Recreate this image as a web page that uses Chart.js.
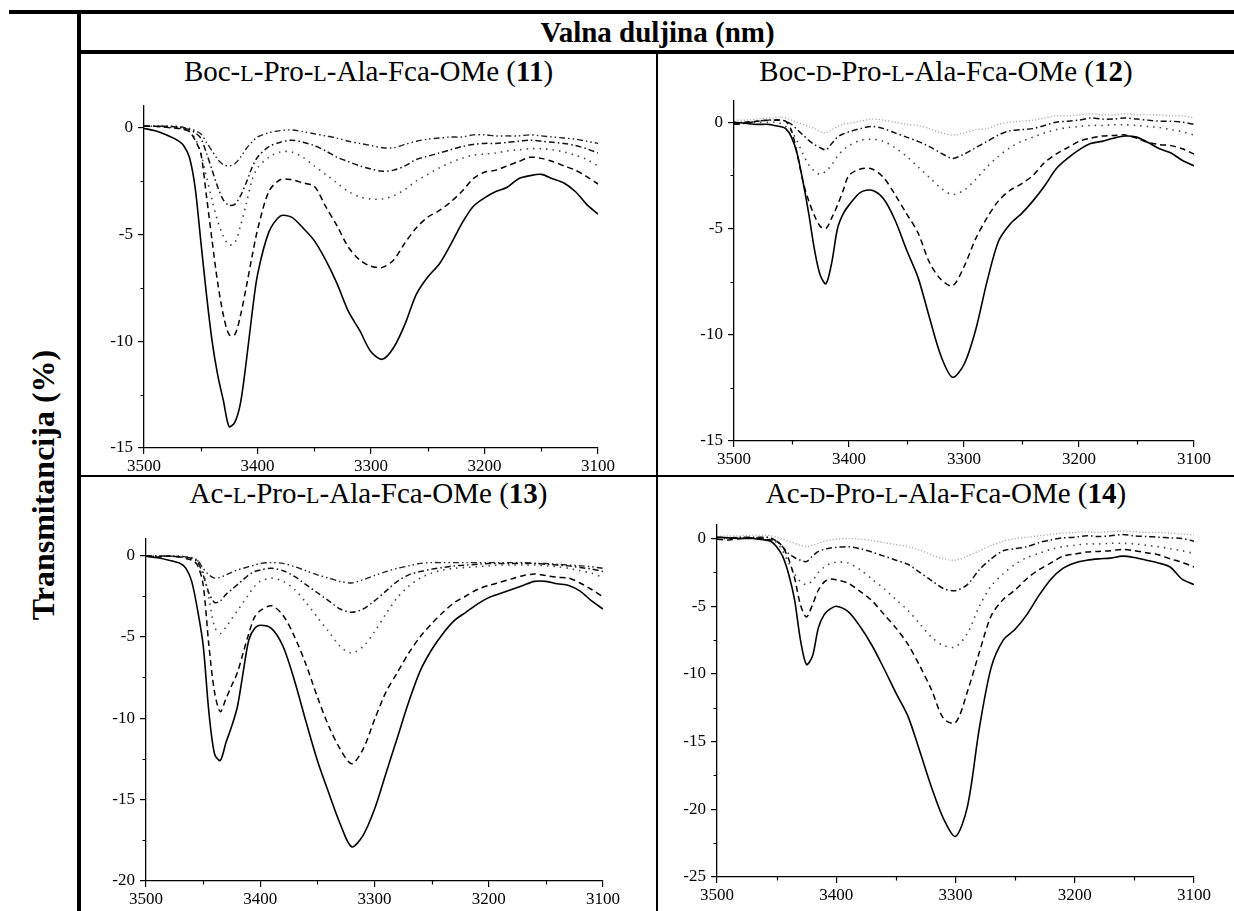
<!DOCTYPE html>
<html>
<head>
<meta charset="utf-8">
<script src="https://cdn.jsdelivr.net/npm/chart.js@4.4.0/dist/chart.umd.min.js"></script>
<style>
  html, body { margin: 0; padding: 0; background: #fff; }
  #page { position: relative; width: 1234px; height: 911px; overflow: hidden; font-family: "Liberation Serif", "Times New Roman", serif; color: #000; }
  .rule { position: absolute; background: #000; }
  .head { position: absolute; font-weight: bold; font-size: 29px; line-height: 29px; text-align: center; white-space: nowrap; }
  .ttl { position: absolute; font-size: 29px; line-height: 29px; text-align: center; white-space: nowrap; }
  .sc { font-size: 0.76em; }
  .box { position: absolute; }
  #ylab { position: absolute; left: -157px; top: 465px; width: 400px; height: 40px; line-height: 40px; font-size: 32px; font-weight: bold; text-align: center; white-space: nowrap; transform: rotate(-90deg); }
</style>
</head>
<body>
<div id="page">
  <!-- tablica -->
  <div class="rule" style="left:9px;top:10px;width:1225px;height:4px"></div>
  <div class="rule" style="left:77px;top:10px;width:4px;height:901px"></div>
  <div class="rule" style="left:79px;top:50px;width:1155px;height:4px"></div>
  <div class="rule" style="left:656px;top:52px;width:2px;height:859px"></div>
  <div class="rule" style="left:79px;top:475px;width:1155px;height:2px"></div>

  <div class="head" style="left:81px;width:1153px;top:18px">Valna duljina (nm)</div>
  <div id="ylab">Transmitancija (%)</div>

  <div class="ttl" style="left:81px;width:575px;top:57px">Boc-<span class="sc">L</span>-Pro-<span class="sc">L</span>-Ala-Fca-OMe (<b>11</b>)</div>
  <div class="ttl" style="left:658px;width:576px;top:57px">Boc-<span class="sc">D</span>-Pro-<span class="sc">L</span>-Ala-Fca-OMe (<b>12</b>)</div>
  <div class="ttl" style="left:81px;width:575px;top:479px">Ac-<span class="sc">L</span>-Pro-<span class="sc">L</span>-Ala-Fca-OMe (<b>13</b>)</div>
  <div class="ttl" style="left:658px;width:576px;top:479px">Ac-<span class="sc">D</span>-Pro-<span class="sc">L</span>-Ala-Fca-OMe (<b>14</b>)</div>

  <div class="box" id="b11"><canvas id="c11"></canvas></div>
  <div class="box" id="b12"><canvas id="c12"></canvas></div>
  <div class="box" id="b13"><canvas id="c13"></canvas></div>
  <div class="box" id="b14"><canvas id="c14"></canvas></div>
</div>

<script>
// valni brojevi (cm-1), zajednički za sve spektre
const wavenumbers = [3500,3490,3480,3470,3465,3460,3455,3450,3445,3440,3435,3430,3425,3420,3415,3410,3405,3400,
  3390,3380,3370,3360,3350,3340,3330,3320,3310,3300,3290,3280,3270,3260,3250,3240,3230,3220,3210,3200,
  3190,3180,3170,3160,3150,3140,3130,3120,3110,3100];
const xTicks = [3500, 3400, 3300, 3200, 3100];
const xMinor = [3450, 3350, 3250, 3150];

const yTicks11 = [0, -5, -10, -15];
const yMinor11 = [-2.5, -7.5, -12.5];
const yTicks13 = [0, -5, -10, -15, -20];
const yMinor13 = [-2.5, -7.5, -12.5, -17.5];
const yTicks14 = [0, -5, -10, -15, -20, -25];
const yMinor14 = [-2.5, -7.5, -12.5, -17.5, -22.5];

// 11: Boc-L-Pro-L-Ala-Fca-OMe
const c11_a = [-0.05,-0.16,-0.36,-0.62,-0.86,-1.4,-2.8,-5.3,-7.8,-10.0,-11.6,-12.8,-14.0,-13.8,-12.9,-11.0,-8.8,-6.9,
  -4.9,-4.15,-4.2,-4.7,-5.3,-6.2,-7.3,-8.6,-9.5,-10.5,-10.85,-10.3,-9.2,-7.8,-7.0,-6.4,-5.5,-4.5,-3.7,-3.3,
  -3.0,-2.8,-2.4,-2.26,-2.2,-2.4,-2.6,-3.0,-3.6,-4.06];
const c11_b = [0.05,0.05,0,-0.05,-0.1,-0.2,-0.6,-1.2,-3.2,-5.3,-7.3,-8.8,-9.7,-9.7,-8.8,-7.5,-6.1,-4.8,
  -3.0,-2.45,-2.45,-2.6,-2.75,-3.7,-4.6,-5.6,-6.2,-6.5,-6.55,-6.2,-5.4,-4.7,-4.2,-3.9,-3.5,-3.0,-2.4,-2.1,
  -2.0,-1.8,-1.6,-1.4,-1.45,-1.6,-1.8,-2.0,-2.3,-2.65];
const c11_c = [0.05,0.05,0,0,-0.05,-0.2,-0.5,-1.2,-2.3,-3.4,-4.4,-5.1,-5.5,-5.4,-4.6,-3.6,-2.5,-1.9,
  -1.4,-1.15,-1.15,-1.4,-1.8,-2.2,-2.6,-3.0,-3.25,-3.35,-3.35,-3.2,-2.9,-2.5,-2.2,-1.9,-1.65,-1.45,-1.3,-1.25,
  -1.2,-1.1,-1.05,-1.0,-1.0,-1.05,-1.15,-1.3,-1.5,-1.8];
const c11_d = [0.05,0.05,0.05,0,-0.05,-0.1,-0.25,-0.5,-1.2,-2.0,-2.8,-3.4,-3.65,-3.6,-3.2,-2.6,-1.9,-1.4,
  -0.9,-0.7,-0.6,-0.7,-0.85,-1.1,-1.4,-1.6,-1.8,-1.95,-2.05,-2.0,-1.8,-1.5,-1.35,-1.2,-1.05,-0.9,-0.8,-0.75,
  -0.75,-0.7,-0.65,-0.6,-0.65,-0.7,-0.75,-0.85,-1.0,-1.2];
const c11_e = [0.05,0.05,0.05,0.05,0,-0.05,-0.15,-0.3,-0.7,-1.1,-1.5,-1.75,-1.8,-1.7,-1.4,-1.0,-0.7,-0.45,
  -0.25,-0.15,-0.12,-0.2,-0.3,-0.4,-0.5,-0.65,-0.75,-0.85,-0.95,-0.95,-0.8,-0.65,-0.55,-0.5,-0.45,-0.45,-0.35,-0.35,
  -0.4,-0.4,-0.4,-0.35,-0.4,-0.45,-0.5,-0.55,-0.65,-0.75];

// 12: Boc-D-Pro-L-Ala-Fca-OMe
const c12_a = [0,-0.05,-0.1,-0.1,-0.15,-0.2,-0.3,-0.7,-1.5,-2.8,-4.3,-6.0,-7.2,-7.6,-6.6,-5.0,-4.3,-3.9,
  -3.3,-3.2,-3.6,-4.6,-6.0,-7.3,-9.2,-11.0,-12.0,-11.4,-9.8,-7.5,-5.6,-4.8,-4.3,-3.7,-3.0,-2.2,-1.7,-1.3,
  -1.0,-0.9,-0.75,-0.65,-0.7,-0.95,-1.25,-1.45,-1.8,-2.05];
const c12_b = [-0.1,0,0.05,0.1,0.1,0.1,0.05,-0.4,-1.5,-2.8,-3.7,-4.4,-4.9,-5.0,-4.5,-3.9,-3.2,-2.5,
  -2.2,-2.2,-2.6,-3.4,-4.3,-5.2,-6.6,-7.4,-7.7,-6.8,-5.5,-4.5,-3.7,-3.2,-2.9,-2.5,-1.9,-1.5,-1.2,-0.9,
  -0.75,-0.65,-0.62,-0.6,-0.75,-0.95,-1.05,-1.1,-1.25,-1.5];
const c12_c = [0,0,0,0,0,-0.05,-0.2,-0.4,-0.9,-1.5,-2.0,-2.3,-2.45,-2.3,-2.0,-1.6,-1.3,-1.1,
  -0.85,-0.8,-0.9,-1.2,-1.6,-2.1,-2.6,-3.1,-3.4,-3.2,-2.7,-2.1,-1.6,-1.2,-0.9,-0.7,-0.5,-0.35,-0.25,-0.2,
  -0.15,-0.15,-0.12,-0.12,-0.15,-0.2,-0.25,-0.35,-0.45,-0.6];
const c12_d = [-0.1,-0.05,0.05,0.1,0.1,0.1,0.05,-0.1,-0.35,-0.6,-0.85,-1.05,-1.2,-1.3,-1.0,-0.7,-0.55,-0.45,
  -0.3,-0.2,-0.3,-0.5,-0.7,-0.9,-1.15,-1.45,-1.7,-1.5,-1.2,-0.9,-0.6,-0.4,-0.35,-0.3,-0.15,0,0.05,0.1,
  0.2,0.15,0.15,0.2,0.15,0.1,0.05,0.05,0,-0.1];
const c12_e = [0.1,0.1,0.15,0.2,0.2,0.25,0.2,0.1,0,-0.1,-0.2,-0.3,-0.45,-0.5,-0.35,-0.2,-0.1,-0.05,
  0.05,0.15,0.1,0,-0.1,-0.15,-0.3,-0.5,-0.6,-0.5,-0.35,-0.3,-0.1,0,0.05,0.1,0.2,0.3,0.3,0.35,
  0.4,0.35,0.35,0.4,0.35,0.35,0.35,0.3,0.3,0.2];

// 13: Ac-L-Pro-L-Ala-Fca-OMe
const c13_a = [-0.05,-0.15,-0.3,-0.5,-0.8,-1.6,-3.3,-5.5,-9.6,-12.2,-12.6,-11.5,-10.5,-9.3,-7.2,-5.2,-4.5,-4.3,
  -4.5,-5.6,-7.7,-10.2,-12.6,-14.6,-16.5,-17.9,-17.2,-15.6,-13.4,-11.2,-9.0,-7.1,-5.8,-4.8,-4.0,-3.5,-3.0,-2.6,
  -2.35,-2.1,-1.85,-1.6,-1.6,-1.75,-1.85,-2.2,-2.8,-3.3];
const c13_b = [-0.05,-0.1,-0.05,-0.1,-0.2,-0.3,-0.6,-1.8,-5.5,-8.4,-9.6,-8.8,-8.0,-7.2,-6.0,-4.8,-3.8,-3.4,
  -3.1,-3.7,-5.0,-6.7,-8.7,-10.5,-11.9,-12.8,-11.9,-10.1,-8.4,-7.2,-6.0,-5.0,-4.2,-3.5,-2.9,-2.5,-2.1,-1.85,
  -1.65,-1.45,-1.25,-1.15,-1.25,-1.35,-1.4,-1.7,-2.1,-2.55];
const c13_c = [-0.05,-0.05,-0.05,-0.1,-0.1,-0.15,-0.3,-1.0,-2.6,-4.4,-4.8,-4.4,-3.9,-3.4,-2.9,-2.4,-1.9,-1.6,
  -1.4,-1.6,-2.1,-2.9,-3.8,-4.7,-5.6,-6.0,-5.6,-4.7,-3.6,-2.6,-1.9,-1.4,-1.1,-0.9,-0.8,-0.75,-0.7,-0.65,
  -0.6,-0.6,-0.6,-0.6,-0.65,-0.7,-0.8,-0.95,-1.1,-1.35];
const c13_d = [-0.05,-0.05,-0.05,-0.1,-0.1,-0.2,-0.4,-1.2,-2.3,-2.9,-2.8,-2.4,-2.1,-1.8,-1.5,-1.2,-1.0,-0.9,
  -0.8,-0.95,-1.3,-1.8,-2.3,-2.8,-3.3,-3.5,-3.3,-2.8,-2.2,-1.6,-1.2,-1.0,-0.85,-0.75,-0.65,-0.6,-0.55,-0.5,
  -0.5,-0.5,-0.5,-0.5,-0.55,-0.6,-0.65,-0.75,-0.85,-1.0];
const c13_e = [-0.05,-0.05,-0.05,-0.05,-0.1,-0.15,-0.3,-0.8,-1.2,-1.4,-1.35,-1.2,-1.05,-0.9,-0.8,-0.7,-0.6,-0.5,
  -0.45,-0.5,-0.7,-0.95,-1.2,-1.4,-1.6,-1.7,-1.5,-1.25,-1.0,-0.8,-0.65,-0.5,-0.45,-0.45,-0.45,-0.45,-0.45,-0.45,
  -0.45,-0.45,-0.45,-0.5,-0.5,-0.55,-0.6,-0.65,-0.7,-0.8];

// 14: Ac-D-Pro-L-Ala-Fca-OMe
const c14_a = [0.1,0.05,0,0,-0.05,-0.1,-0.2,-0.6,-1.3,-2.6,-4.5,-7.5,-9.3,-8.7,-6.6,-5.6,-5.2,-5.0,
  -5.4,-6.5,-7.9,-9.6,-11.4,-13.1,-15.7,-18.4,-20.7,-22.0,-19.8,-14.0,-9.5,-7.5,-6.7,-5.6,-4.2,-3.0,-2.2,-1.8,
  -1.6,-1.5,-1.45,-1.3,-1.4,-1.6,-1.8,-2.1,-3.0,-3.4];
const c14_b = [-0.05,-0.1,0,0.05,0,-0.05,-0.1,-0.2,-0.6,-1.5,-2.9,-4.9,-5.8,-4.9,-3.8,-3.2,-3.0,-3.05,
  -3.3,-3.9,-4.6,-5.6,-6.6,-7.8,-9.4,-11.2,-13.3,-13.6,-11.3,-8.4,-5.7,-4.5,-3.8,-2.95,-2.3,-1.8,-1.3,-1.15,
  -1.0,-0.95,-0.9,-0.8,-0.9,-1.05,-1.2,-1.5,-1.75,-2.1];
const c14_c = [0,0,0.05,0.05,0.05,0,-0.1,-0.3,-0.9,-1.8,-2.6,-3.2,-3.4,-3.1,-2.5,-2.1,-1.85,-1.75,
  -1.8,-2.3,-3.0,-3.7,-4.5,-5.3,-6.3,-7.3,-7.9,-8.0,-7.0,-5.0,-3.5,-2.6,-1.9,-1.4,-1.1,-0.8,-0.6,-0.5,
  -0.4,-0.4,-0.35,-0.35,-0.4,-0.5,-0.6,-0.75,-0.9,-1.1];
const c14_d = [0.1,0.05,0.1,0.1,0.1,0.1,0.05,-0.2,-0.6,-1.1,-1.4,-1.6,-1.7,-1.3,-0.95,-0.8,-0.7,-0.65,
  -0.6,-0.75,-1.0,-1.3,-1.6,-1.9,-2.5,-3.1,-3.7,-3.85,-3.4,-2.3,-1.5,-0.9,-0.75,-0.6,-0.3,-0.1,0.05,0.1,
  0.2,0.15,0.2,0.3,0.2,0.15,0.1,0.05,0,-0.2];
const c14_e = [0.15,0.2,0.2,0.25,0.25,0.25,0.2,0.1,-0.05,-0.2,-0.35,-0.5,-0.6,-0.5,-0.35,-0.2,-0.1,-0.05,
  0,-0.05,-0.15,-0.3,-0.45,-0.6,-0.85,-1.2,-1.5,-1.6,-1.3,-0.9,-0.5,-0.2,0,0.1,0.2,0.3,0.4,0.45,
  0.5,0.45,0.5,0.55,0.5,0.45,0.45,0.4,0.35,0.25];

// stilovi linija
const solid   = { color: '#000', width: 1.6, dash: [] };
const dashed  = { color: '#000', width: 1.5, dash: [6, 4] };
const dotted  = { color: '#444', width: 1.6, dash: [1.5, 5] };
const dashDot = { color: '#111', width: 1.5, dash: [6, 3, 1.5, 3] };
const dashDotDot = { color: '#222', width: 1.4, dash: [6, 3, 1.5, 3, 1.5, 3] };
const lightDot = { color: '#aaa', width: 1.3, dash: [1.2, 2] };

const PAD_L = 60, PAD_T = 20, PAD_R = 25, PAD_B = 35;
const tickFont = { family: 'Liberation Serif', size: 17 };

// male crtice izmedju glavnih
const minorTicks = {
  id: 'minorTicks',
  afterDraw(chart, args, opts) {
    const ctx = chart.ctx, xs = chart.scales.x, ys = chart.scales.y;
    ctx.save();
    ctx.strokeStyle = '#000';
    ctx.lineWidth = 1.2;
    ctx.beginPath();
    opts.x.forEach(v => {
      const px = Math.round(xs.getPixelForValue(v)) + 0.5;
      ctx.moveTo(px, xs.top); ctx.lineTo(px, xs.top + 3.5);
    });
    opts.y.forEach(v => {
      const py = Math.round(ys.getPixelForValue(v)) + 0.5;
      ctx.moveTo(ys.right, py); ctx.lineTo(ys.right - 3.5, py);
    });
    ctx.stroke();
    ctx.restore();
  }
};

function makePanel(id, area, yMin, yTicks, yMinor, series, styles) {
  const box = document.getElementById('b' + id);
  const w = area.right - area.left, h = area.bottom - area.top;
  box.style.left = (area.left - PAD_L) + 'px';
  box.style.top = (area.top - PAD_T) + 'px';
  box.style.width = (w + PAD_L + PAD_R) + 'px';
  box.style.height = (h + PAD_T + PAD_B) + 'px';

  const datasets = series.map((s, i) => ({
    data: wavenumbers.map((x, j) => ({ x: x, y: s[j] })),
    borderColor: styles[i].color,
    borderWidth: styles[i].width,
    borderDash: styles[i].dash,
    pointRadius: 0,
    tension: 0.3,
    fill: false
  }));

  new Chart(document.getElementById('c' + id), {
    type: 'line',
    data: { datasets: datasets },
    options: {
      responsive: true,
      maintainAspectRatio: false,
      animation: false,
      layout: { padding: { top: PAD_T, right: PAD_R, left: 0, bottom: 0 } },
      plugins: {
        legend: { display: false },
        tooltip: { enabled: false },
        minorTicks: { x: xMinor, y: yMinor }
      },
      scales: {
        x: {
          type: 'linear', min: 3100, max: 3500, reverse: true,
          afterBuildTicks: s => { s.ticks = xTicks.map(v => ({ value: v })); },
          afterFit: s => { s.height = PAD_B; },
          ticks: { callback: v => String(v), font: tickFont, color: '#000', padding: 2, maxRotation: 0, autoSkip: false },
          grid: { drawOnChartArea: false, drawTicks: true, tickLength: 6, color: '#000', lineWidth: 1.2 },
          border: { display: true, color: '#000', width: 1.3 }
        },
        y: {
          type: 'linear', min: yMin, max: 1,
          afterBuildTicks: s => { s.ticks = yTicks.map(v => ({ value: v })); },
          afterFit: s => { s.width = PAD_L; },
          ticks: { callback: v => String(v), font: tickFont, color: '#000', padding: 5, autoSkip: false },
          grid: { drawOnChartArea: false, drawTicks: true, tickLength: 6, color: '#000', lineWidth: 1.2 },
          border: { display: true, color: '#000', width: 1.3 }
        }
      }
    },
    plugins: [minorTicks]
  });
}

makePanel('11', { left: 144, top: 106, right: 598, bottom: 448 }, -15, yTicks11, yMinor11,
  [c11_a, c11_b, c11_c, c11_d, c11_e], [solid, dashed, dotted, dashDot, dashDotDot]);
makePanel('12', { left: 734, top: 101, right: 1194, bottom: 441 }, -15, yTicks11, yMinor11,
  [c12_a, c12_b, c12_c, c12_d, c12_e], [solid, dashed, dotted, dashDot, lightDot]);
makePanel('13', { left: 146, top: 539, right: 603, bottom: 881 }, -20, yTicks13, yMinor13,
  [c13_a, c13_b, c13_c, c13_d, c13_e], [solid, dashed, dotted, dashDot, dashDotDot]);
makePanel('14', { left: 717, top: 525, right: 1194, bottom: 877 }, -25, yTicks14, yMinor14,
  [c14_a, c14_b, c14_c, c14_d, c14_e], [solid, dashed, dotted, dashDot, lightDot]);
</script>
</body>
</html>
